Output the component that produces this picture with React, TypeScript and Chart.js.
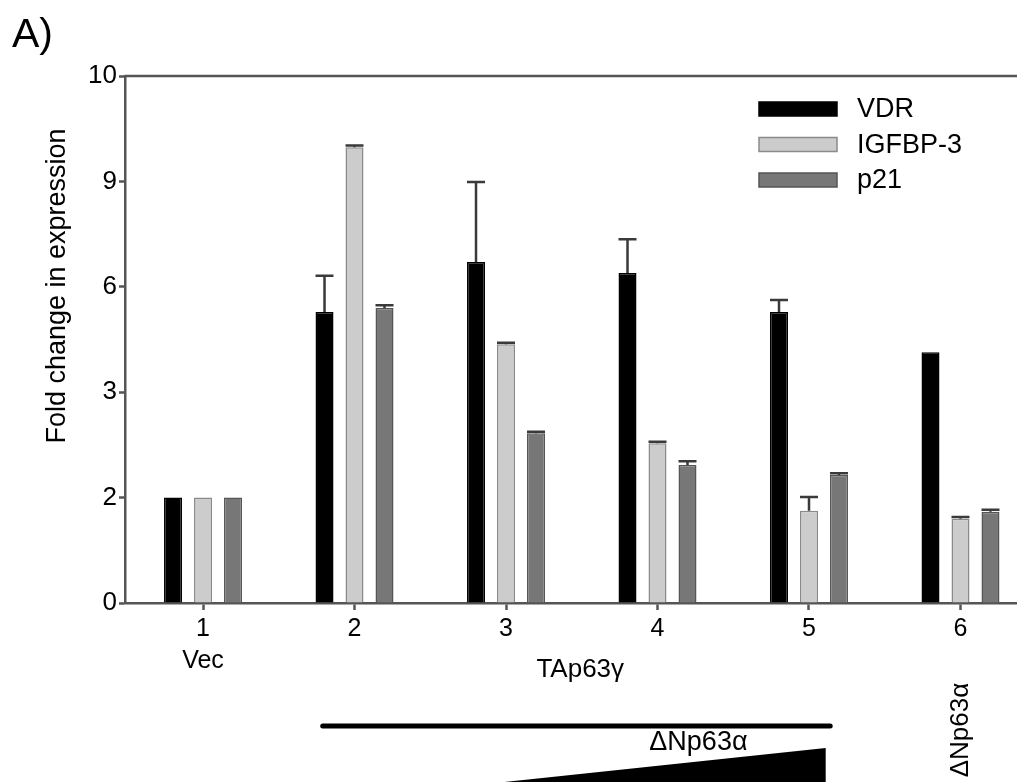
import React, { useEffect, useRef } from "react";
import { Chart, registerables } from "chart.js";

Chart.register(...registerables);

const groups = [1, 2, 3, 4, 5, 6];
const xTickLabels: (string | string[])[] = [["1", "Vec"], "2", "3", "4", "5", "6"];
const yTickValues = [0, 2, 4, 6, 8, 10];
const yTickLabels = ["0", "2", "3", "6", "9", "10"];

const seriesNames = ["VDR", "IGFBP-3", "p21"];
const vdr = [2.0, 5.52, 6.47, 6.26, 5.52, 4.76];
const igfbp3 = [2.0, 8.65, 4.91, 3.03, 1.75, 1.6];
const p21 = [2.0, 5.6, 3.22, 2.62, 2.43, 1.73];
const vdrErr = [0, 0.69, 1.52, 0.64, 0.23, 0];
const igfbp3Err = [0, 0.03, 0.03, 0.03, 0.26, 0.03];
const p21Err = [0, 0.05, 0.03, 0.07, 0.03, 0.04];

const FONT = "'Liberation Sans', Arial, Helvetica, sans-serif";
const AXIS = "#555555";

const fills = ["#000000", "#cccccc", "#777777"];
const borders = ["#000000", "#8a8a8a", "#555555"];

const errorBarPlugin = {
  id: "errorBars",
  afterDatasetsDraw(chart: any) {
    const errs = [vdrErr, igfbp3Err, p21Err];
    const y = chart.scales.y;
    const ctx = chart.ctx;
    ctx.save();
    ctx.strokeStyle = "#3a3a3a";
    ctx.lineWidth = 2.5;
    chart.data.datasets.forEach((ds: any, i: number) => {
      const meta = chart.getDatasetMeta(i);
      meta.data.forEach((el: any, j: number) => {
        const e = errs[i][j];
        if (!e) return;
        const v = ds.data[j].y;
        const y0 = y.getPixelForValue(v);
        const y1 = y.getPixelForValue(v + e);
        const half = el.width / 2;
        ctx.beginPath();
        ctx.moveTo(el.x, y0);
        ctx.lineTo(el.x, y1);
        ctx.moveTo(el.x - half, y1);
        ctx.lineTo(el.x + half, y1);
        ctx.stroke();
      });
    });
    ctx.restore();
  },
};

const decorPlugin = {
  id: "decor",
  afterDraw(chart: any) {
    const ctx = chart.ctx;
    const { left, right, top } = chart.chartArea;
    const x = chart.scales.x;
    ctx.save();
    // top frame line
    ctx.strokeStyle = AXIS;
    ctx.lineWidth = 2.5;
    ctx.beginPath();
    ctx.moveTo(left, top);
    ctx.lineTo(right, top);
    ctx.stroke();

    // panel label
    ctx.fillStyle = "#000";
    ctx.font = `41px ${FONT}`;
    ctx.textAlign = "left";
    ctx.textBaseline = "alphabetic";
    ctx.fillText("A)", 12, 47);

    // y title
    ctx.save();
    ctx.translate(58, 286);
    ctx.rotate(-Math.PI / 2);
    ctx.font = `27px ${FONT}`;
    ctx.textAlign = "center";
    ctx.textBaseline = "middle";
    ctx.fillText("Fold change in expression", 0, 0);
    ctx.restore();

    // legend
    const lx = 759;
    const ly = [109, 144.5, 180];
    ctx.font = `27px ${FONT}`;
    ctx.textAlign = "left";
    ctx.textBaseline = "middle";
    seriesNames.forEach((n, i) => {
      ctx.fillStyle = fills[i];
      ctx.fillRect(lx, ly[i] - 7, 78, 14);
      ctx.strokeStyle = borders[i];
      ctx.lineWidth = 1.5;
      ctx.strokeRect(lx, ly[i] - 7, 78, 14);
      ctx.fillStyle = "#000";
      ctx.fillText(n, 857, ly[i] + 1);
    });

    // annotations below axis
    ctx.fillStyle = "#000";
    ctx.font = `26px ${FONT}`;
    ctx.textAlign = "center";
    ctx.textBaseline = "middle";
    ctx.fillText("TAp63γ", x.getPixelForValue(3.49), 670);

    ctx.strokeStyle = "#000";
    ctx.lineWidth = 5;
    ctx.lineCap = "round";
    ctx.beginPath();
    ctx.moveTo(x.getPixelForValue(1.79), 726);
    ctx.lineTo(x.getPixelForValue(5.14), 726);
    ctx.stroke();

    ctx.font = `27px ${FONT}`;
    ctx.fillText("ΔNp63α", x.getPixelForValue(4.27), 743);

    ctx.beginPath();
    ctx.moveTo(x.getPixelForValue(2.99), 782);
    ctx.lineTo(x.getPixelForValue(5.11), 748);
    ctx.lineTo(x.getPixelForValue(5.11), 782);
    ctx.closePath();
    ctx.fill();

    ctx.save();
    ctx.translate(x.getPixelForValue(6), 730);
    ctx.rotate(-Math.PI / 2);
    ctx.font = `26px ${FONT}`;
    ctx.fillText("ΔNp63α", 0, 0);
    ctx.restore();

    ctx.restore();
  },
};

export default function App() {
  const ref = useRef<HTMLCanvasElement | null>(null);
  useEffect(() => {
    if (!ref.current) return;
    const mk = (vals: number[]) => vals.map((v, i) => ({ x: groups[i], y: v }));
    const chart = new Chart(ref.current, {
      type: "bar",
      data: {
        datasets: [vdr, igfbp3, p21].map((vals, i) => ({
          label: seriesNames[i],
          data: mk(vals),
          backgroundColor: fills[i],
          borderColor: borders[i],
          borderWidth: 1.5,
          categoryPercentage: 0.594,
          barPercentage: 0.6,
        })),
      },
      options: {
        animation: false,
        responsive: false,
        maintainAspectRatio: false,
        layout: { padding: { top: 76, left: 0, right: 0, bottom: 0 } },
        plugins: { legend: { display: false }, tooltip: { enabled: false } },
        scales: {
          x: {
            type: "linear",
            min: 0.485,
            max: 6.373,
            offset: false,
            afterFit: (s: any) => {
              s.height = 179;
            },
            afterBuildTicks: (s: any) => {
              s.ticks = groups.map((v) => ({ value: v }));
            },
            grid: {
              offset: false,
              drawOnChartArea: false,
              drawTicks: true,
              tickLength: 7,
              tickColor: AXIS,
              tickWidth: 2.5,
            },
            border: { display: true, color: AXIS, width: 2.5 },
            ticks: {
              color: "#000",
              font: { family: FONT, size: 25, lineHeight: 1.28 },
              padding: 3,
              maxRotation: 0,
              autoSkip: false,
              callback: (v: any) => {
                const i = groups.indexOf(Number(v));
                return i >= 0 ? xTickLabels[i] : "";
              },
            },
          },
          y: {
            min: 0,
            max: 10,
            afterFit: (s: any) => {
              s.width = 125;
            },
            afterBuildTicks: (s: any) => {
              s.ticks = yTickValues.map((v) => ({ value: v }));
            },
            grid: {
              drawOnChartArea: false,
              drawTicks: true,
              tickLength: 6,
              tickColor: AXIS,
              tickWidth: 2.5,
            },
            border: { display: true, color: AXIS, width: 2.5 },
            ticks: {
              color: "#000",
              font: { family: FONT, size: 26 },
              padding: 2,
              callback: (v: any) => {
                const i = yTickValues.indexOf(Number(v));
                return i >= 0 ? yTickLabels[i] : "";
              },
            },
          },
        },
      },
      plugins: [errorBarPlugin, decorPlugin],
    } as any);
    return () => chart.destroy();
  }, []);
  return (
    <div style={{ position: "fixed", left: 0, top: 0, width: 1017, height: 782, background: "#fff" }}>
      <canvas ref={ref} width={1017} height={782} style={{ width: 1017, height: 782, display: "block" }} />
    </div>
  );
}
